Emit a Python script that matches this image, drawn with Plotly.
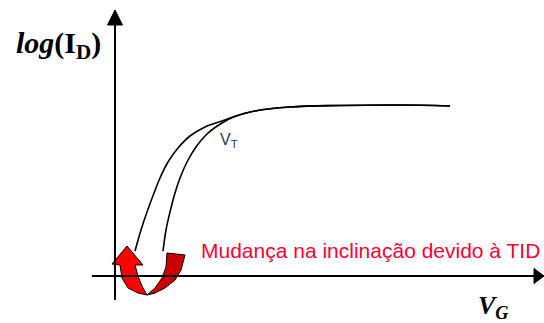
import plotly.graph_objects as go

W, H = 544, 323

# Transfer curves, log(I_D) versus V_G, in diagram units (x to the right, y downward)
vg_before = [163, 166, 170, 175, 180, 187, 196, 207, 222, 236, 255, 290, 340, 400, 450]
logid_before = [251, 230, 212, 193, 178, 162, 147, 134, 123, 116, 111, 107, 105.5, 105, 106]
vg_after = [135, 141, 147, 154, 160, 168, 178, 190, 205, 222, 236, 255, 290, 340, 400, 450]
logid_after = [251, 230, 212, 193, 178, 162, 148, 136, 127, 121, 116, 111, 107, 105.5, 105, 106]

# Axis geometry
ORIGIN_X, ORIGIN_Y = 115, 276
Y_AXIS_TOP, Y_AXIS_BOTTOM = 10, 300
X_AXIS_LEFT, X_AXIS_RIGHT = 92, 544

# Curved arrow outline (front face with head, back face)
arrow_front_x = [127, 143, 135, 138, 142, 147, 138, 128, 122, 120, 112, 127]
arrow_front_y = [246, 265, 265, 276, 286, 295, 293, 288, 278, 265, 264, 246]
arrow_back_x = [147, 155, 165, 175, 181, 185, 167, 166, 162, 155, 147]
arrow_back_y = [295, 293, 288, 280, 270, 255, 253, 267, 278, 288, 295]

fig = go.Figure()

# Axis lines
fig.add_shape(type="line", x0=ORIGIN_X, x1=ORIGIN_X, y0=Y_AXIS_BOTTOM, y1=Y_AXIS_TOP + 12,
              xref="x", yref="y", line=dict(color="black", width=2))
fig.add_shape(type="line", x0=X_AXIS_LEFT, x1=X_AXIS_RIGHT - 8, y0=ORIGIN_Y, y1=ORIGIN_Y,
              xref="x", yref="y", line=dict(color="black", width=2))

# Axis arrowheads
fig.add_trace(go.Scatter(
    x=[ORIGIN_X, ORIGIN_X - 7.5, ORIGIN_X + 7.5, ORIGIN_X],
    y=[Y_AXIS_TOP, Y_AXIS_TOP + 15, Y_AXIS_TOP + 15, Y_AXIS_TOP],
    fill="toself", fillcolor="black", mode="lines", line=dict(color="black", width=1),
    hoverinfo="skip", showlegend=False))
fig.add_trace(go.Scatter(
    x=[X_AXIS_RIGHT, X_AXIS_RIGHT - 10, X_AXIS_RIGHT - 10, X_AXIS_RIGHT],
    y=[ORIGIN_Y, ORIGIN_Y - 7.5, ORIGIN_Y + 7.5, ORIGIN_Y],
    fill="toself", fillcolor="black", mode="lines", line=dict(color="black", width=1),
    hoverinfo="skip", showlegend=False))

# Transfer curves
for xs, ys in ((vg_before, logid_before), (vg_after, logid_after)):
    fig.add_trace(go.Scatter(x=xs, y=ys, mode="lines",
                             line=dict(color="black", width=1.6, shape="spline", smoothing=1.0),
                             hoverinfo="skip", showlegend=False))

# Curved red arrow
fig.add_trace(go.Scatter(x=arrow_back_x, y=arrow_back_y, fill="toself", fillcolor="#cc0000",
                         mode="lines", line=dict(color="black", width=1),
                         hoverinfo="skip", showlegend=False))
fig.add_trace(go.Scatter(x=arrow_front_x, y=arrow_front_y, fill="toself", fillcolor="#ff0000",
                         mode="lines", line=dict(color="black", width=1),
                         hoverinfo="skip", showlegend=False))

annotations = [
    dict(x=58, y=45, text="<b><i>log</i>(I<sub>D</sub>)</b>",
         font=dict(family="Liberation Serif", size=30, color="black")),
    dict(x=493, y=307, text="<b><i>V<sub>G</sub></i></b>",
         font=dict(family="Liberation Serif", size=26, color="black")),
    dict(x=229, y=140, text="V<sub>T</sub>",
         font=dict(family="Liberation Sans", size=16, color="#333355")),
    dict(x=370, y=250, text="Mudança na inclinação devido à TID",
         font=dict(family="Liberation Sans", size=21, color="#ff0033")),
]
for a in annotations:
    a.update(xref="x", yref="y", showarrow=False, xanchor="center", yanchor="middle")

fig.update_layout(
    width=W, height=H,
    margin=dict(l=0, r=0, t=0, b=0),
    paper_bgcolor="white", plot_bgcolor="white",
    xaxis=dict(range=[0, W], visible=False, fixedrange=True),
    yaxis=dict(range=[H, 0], visible=False, fixedrange=True),
    annotations=annotations,
)

fig.write_html("out.html")
